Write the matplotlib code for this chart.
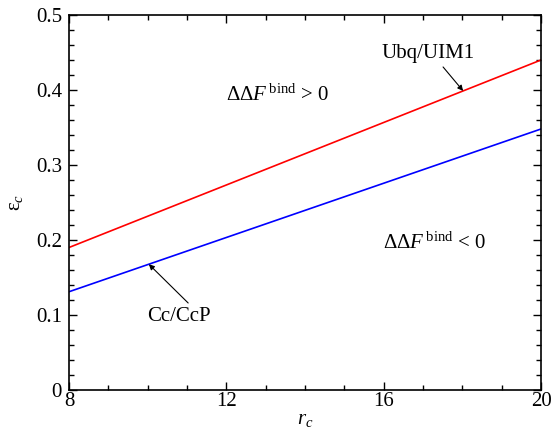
import matplotlib
matplotlib.use("Agg")
import matplotlib.pyplot as plt
from matplotlib.ticker import MultipleLocator

plt.rcParams['font.family'] = ['Liberation Serif', 'DejaVu Serif']
plt.rcParams['mathtext.fontset'] = 'custom'
plt.rcParams['mathtext.rm'] = 'Liberation Serif'
plt.rcParams['mathtext.it'] = 'Liberation Serif:italic'
plt.rcParams['mathtext.bf'] = 'Liberation Serif:bold'

# data
r_c = [8, 20]
ubq_uim1 = [0.190, 0.440]
cc_ccp = [0.131, 0.348]
x_ticks = [8, 12, 16, 20]
y_ticks = [0, 0.1, 0.2, 0.3, 0.4, 0.5]
y_ticklabels = ["0", "0.1", "0.2", "0.3", "0.4", "0.5"]

fig = plt.figure(figsize=(5.55, 4.33), dpi=100)
ax = fig.add_axes([0.1243, 0.0993, 0.8505, 0.8661])

ax.plot(r_c, ubq_uim1, color='#ff0000', lw=1.2)
ax.plot(r_c, cc_ccp, color='#0000ff', lw=1.2)

ax.set_xlim(8, 20)
ax.set_ylim(0, 0.5)
ax.set_xticks(x_ticks)
ax.set_yticks(y_ticks)
ax.set_yticklabels(y_ticklabels)
ax.xaxis.set_minor_locator(MultipleLocator(1))
ax.yaxis.set_minor_locator(MultipleLocator(0.02))
ax.tick_params(which='both', direction='in', top=True, right=True, labelsize=15, width=1)
ax.tick_params(which='major', length=6)
ax.tick_params(which='minor', length=3.5)
ax.tick_params(axis='x', which='major', pad=1.5)
ax.tick_params(axis='y', which='major', pad=5)
for s in ax.spines.values():
    s.set_linewidth(1.2)

ax.set_xlabel(r'$r_c$', fontsize=15, labelpad=-1)
ax.set_ylabel(r'$\mathrm{\epsilon}_c$', fontsize=15, labelpad=8)

ax.text(12.0, 0.393, r'$\Delta\Delta F^{\,\mathrm{bind}}$ > 0', fontsize=15, va='center')
ax.text(15.98, 0.196, r'$\Delta\Delta F^{\,\mathrm{bind}}$ < 0', fontsize=15, va='center')

ax.text(17.12, 0.4487, 'Ubq/UIM1', fontsize=15, ha='center', va='center')
ax.annotate('', xy=(18.02, ubq_uim1[0] + (ubq_uim1[1]-ubq_uim1[0])*(18.02-8)/12),
            xytext=(17.51, 0.4307),
            arrowprops=dict(arrowstyle='-|>', color='black', lw=0.8, mutation_scale=8, shrinkA=0, shrinkB=0))
ax.text(10.80, 0.098, 'Cc/CcP', fontsize=15, ha='center', va='center')
ax.annotate('', xy=(10.03, cc_ccp[0] + (cc_ccp[1]-cc_ccp[0])*(10.03-8)/12),
            xytext=(11.03, 0.116),
            arrowprops=dict(arrowstyle='-|>', color='black', lw=0.8, mutation_scale=8, shrinkA=0, shrinkB=0))

fig.savefig('out.png', dpi=100)
